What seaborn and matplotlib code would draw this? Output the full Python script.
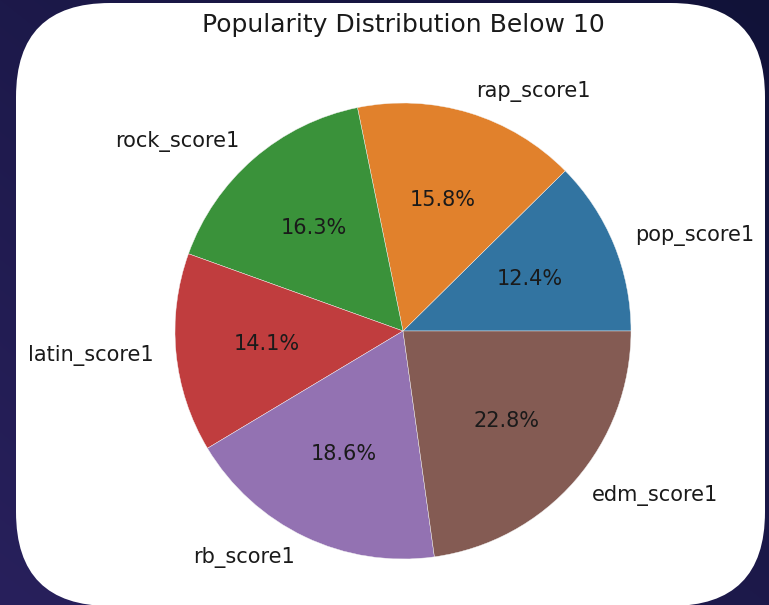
import numpy as np
import matplotlib
matplotlib.use("Agg")
import matplotlib.pyplot as plt
from matplotlib.patches import FancyBboxPatch
import seaborn as sns

# Share of tracks with popularity below 10, by genre score
genres = ["pop_score1", "rap_score1", "rock_score1", "latin_score1", "rb_score1", "edm_score1"]
shares = [12.4, 15.8, 16.3, 14.1, 18.6, 22.8]
title = "Popularity Distribution Below 10"

sns.set_theme(style="white")
plt.rcParams["font.family"] = ["DejaVu Sans"]
colors = sns.color_palette("tab10", len(genres), desat=0.75)

W, H = 769, 605
fig = plt.figure(figsize=(W / 100, H / 100), dpi=100)

# Backdrop: diagonal navy-to-violet gradient with a white rounded card
bg = fig.add_axes([0, 0, 1, 1])
bg.set_xlim(0, W)
bg.set_ylim(H, 0)
bg.axis("off")
yy, xx = np.mgrid[0:H, 0:W]
t = (xx / W + (1 - yy / H)) / 2.0  # 0 at bottom-left, 1 at top-right
c0 = np.array([0x28, 0x20, 0x5c]) / 255.0
c1 = np.array([0x11, 0x12, 0x38]) / 255.0
grad = c0[None, None, :] * (1 - t[..., None]) + c1[None, None, :] * t[..., None]
bg.imshow(grad, extent=(0, W, H, 0), aspect="auto", zorder=0)
card = FancyBboxPatch((16, 3), 749, 603, boxstyle="round,pad=0,rounding_size=94",
                      facecolor="white", edgecolor="none", zorder=1)
bg.add_patch(card)

# Pie chart
cx, cy, r = 403, 331, 228
side = 2.5 * r
ax = fig.add_axes([(cx - side / 2) / W, (H - cy - side / 2) / H, side / W, side / H])
ax.pie(shares, labels=genres, colors=colors, autopct="%1.1f%%", startangle=0,
       counterclock=True, textprops={"fontsize": 15, "color": "#1a1a1a"},
       wedgeprops={"linewidth": 0.3, "edgecolor": "#f4f4f4"})
ax.set_title(title, fontsize=18, color="#1a1a1a", pad=10)
ax.patch.set_alpha(0)

fig.savefig("out.png", dpi=100)
